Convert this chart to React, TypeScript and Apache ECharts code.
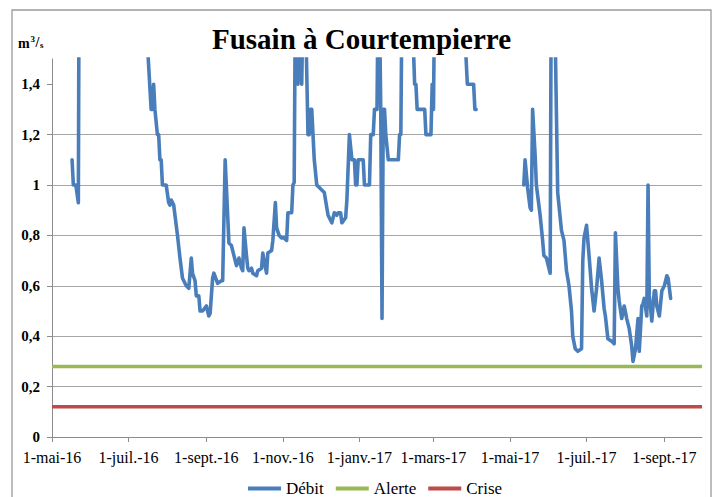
import React, { useEffect, useRef } from 'react';
import * as echarts from 'echarts';

const FONT = '"Liberation Serif", "Times New Roman", serif';

const axisStart = '2016-05-01';
const axisEnd = '2017-10-01';

const tickDates = [
  '2016-05-01', '2016-07-01', '2016-09-01', '2016-11-01', '2017-01-01',
  '2017-03-01', '2017-05-01', '2017-07-01', '2017-09-01',
];
const tickLabels = [
  '1-mai-16', '1-juil.-16', '1-sept.-16', '1-nov.-16', '1-janv.-17',
  '1-mars-17', '1-mai-17', '1-juil.-17', '1-sept.-17',
];
const yTicks = [0, 0.2, 0.4, 0.6, 0.8, 1, 1.2, 1.4];

const alerteValue = 0.28;
const criseValue = 0.12;

// Débit (m3/s); values above 1.5 run off the top of the chart
const debitDates = [
  '2016-05-17', '2016-05-18', '2016-05-20', '2016-05-22', '2016-05-23', '2016-06-01', '2016-06-15',
  '2016-07-01', '2016-07-10', '2016-07-15', '2016-07-19', '2016-07-20', '2016-07-21', '2016-07-22',
  '2016-07-24', '2016-07-25', '2016-07-26', '2016-07-27', '2016-07-28', '2016-07-31', '2016-08-02',
  '2016-08-03', '2016-08-04', '2016-08-06', '2016-08-09', '2016-08-11', '2016-08-13', '2016-08-16',
  '2016-08-18', '2016-08-20', '2016-08-21', '2016-08-23', '2016-08-24', '2016-08-26', '2016-08-27',
  '2016-08-29', '2016-09-01', '2016-09-03', '2016-09-04', '2016-09-06', '2016-09-07', '2016-09-10',
  '2016-09-13', '2016-09-14', '2016-09-16', '2016-09-19', '2016-09-21', '2016-09-23', '2016-09-25',
  '2016-09-27', '2016-09-29', '2016-09-30', '2016-10-01', '2016-10-03', '2016-10-04', '2016-10-05',
  '2016-10-07', '2016-10-08', '2016-10-11', '2016-10-12', '2016-10-15', '2016-10-16', '2016-10-17',
  '2016-10-19', '2016-10-20', '2016-10-23', '2016-10-24', '2016-10-26', '2016-10-27', '2016-10-29',
  '2016-10-31', '2016-11-02', '2016-11-04', '2016-11-05', '2016-11-08', '2016-11-09', '2016-11-10',
  '2016-11-11', '2016-11-12', '2016-11-13', '2016-11-14', '2016-11-15', '2016-11-16', '2016-11-17',
  '2016-11-19', '2016-11-21', '2016-11-22', '2016-11-23', '2016-11-24', '2016-11-25', '2016-11-26',
  '2016-11-28', '2016-11-30', '2016-12-02', '2016-12-04', '2016-12-06', '2016-12-07', '2016-12-09',
  '2016-12-10', '2016-12-12', '2016-12-14', '2016-12-15', '2016-12-17', '2016-12-18', '2016-12-21',
  '2016-12-22', '2016-12-24', '2016-12-26', '2016-12-28', '2016-12-29', '2016-12-30', '2016-12-31',
  '2017-01-04', '2017-01-05', '2017-01-09', '2017-01-10', '2017-01-12', '2017-01-13', '2017-01-15',
  '2017-01-16', '2017-01-17', '2017-01-18', '2017-01-19', '2017-01-20', '2017-01-21', '2017-01-22',
  '2017-01-24', '2017-02-01', '2017-02-02', '2017-02-03', '2017-02-04', '2017-02-10', '2017-02-12',
  '2017-02-14', '2017-02-15', '2017-02-16', '2017-02-22', '2017-02-23', '2017-02-27', '2017-02-28',
  '2017-03-01', '2017-03-02', '2017-03-12', '2017-03-26', '2017-03-28', '2017-04-02', '2017-04-03',
  '2017-04-04', '2017-04-20',
  '2017-05-12', '2017-05-13', '2017-05-15', '2017-05-17', '2017-05-18', '2017-05-19', '2017-05-21',
  '2017-05-22', '2017-05-25', '2017-05-27', '2017-05-28', '2017-05-30', '2017-06-02', '2017-06-03',
  '2017-06-05', '2017-06-08', '2017-06-11', '2017-06-13', '2017-06-15', '2017-06-17', '2017-06-19',
  '2017-06-20', '2017-06-22', '2017-06-24', '2017-06-27', '2017-06-28', '2017-06-29', '2017-07-01',
  '2017-07-03', '2017-07-05', '2017-07-07', '2017-07-09', '2017-07-11', '2017-07-13', '2017-07-15',
  '2017-07-16', '2017-07-18', '2017-07-21', '2017-07-23', '2017-07-24', '2017-07-26', '2017-07-27',
  '2017-07-29', '2017-07-31', '2017-08-02', '2017-08-04', '2017-08-06', '2017-08-07', '2017-08-09',
  '2017-08-11', '2017-08-12', '2017-08-14', '2017-08-15', '2017-08-16', '2017-08-18', '2017-08-19',
  '2017-08-20', '2017-08-22', '2017-08-24', '2017-08-25', '2017-08-26', '2017-08-28', '2017-08-30',
  '2017-09-01', '2017-09-03', '2017-09-04', '2017-09-06',
];
const debitValues = [
  1.10, 1.00, 1.00, 0.93, 2.5, 3.0, 2.6,
  2.0, 1.8, 1.65, 1.30, 1.30, 1.40, 1.30,
  1.20, 1.20, 1.10, 1.10, 1.00, 1.00, 0.93,
  0.92, 0.94, 0.92, 0.80, 0.71, 0.63, 0.60,
  0.59, 0.71, 0.65, 0.62, 0.56, 0.56, 0.50,
  0.50, 0.52, 0.48, 0.49, 0.63, 0.65, 0.61,
  0.62, 0.62, 1.10, 0.77, 0.76, 0.72, 0.68,
  0.71, 0.67, 0.66, 0.83, 0.72, 0.67, 0.66,
  0.67, 0.65, 0.64, 0.66, 0.67, 0.73, 0.70,
  0.65, 0.73, 0.74, 0.78, 0.93, 0.83, 0.80,
  0.79, 0.79, 0.78, 0.89, 0.89, 1.00, 1.01,
  1.8, 1.6, 1.40, 1.8, 1.6, 1.40, 1.7,
  1.7, 1.20, 1.20, 1.30, 1.30, 1.20, 1.10,
  1.00, 0.99, 0.98, 0.97, 0.91, 0.88, 0.86,
  0.85, 0.89, 0.88, 0.89, 0.89, 0.85, 0.87,
  0.94, 1.20, 1.10, 1.10, 1.00, 1.00, 1.10,
  1.10, 1.00, 1.00, 1.20, 1.20, 1.30, 1.30,
  1.8, 1.7, 1.30, 0.47, 1.30, 1.30, 1.20,
  1.10, 1.10, 1.20, 1.20, 1.8, 2.0, 1.7,
  1.40, 1.40, 1.30, 1.30, 1.20, 1.20, 1.40,
  1.30, 1.8, 2.2, 1.6, 1.40, 1.40, 1.30,
  1.30, null,
  1.00, 1.10, 0.99, 0.91, 0.90, 1.30, 1.12,
  1.00, 0.88, 0.78, 0.72, 0.71, 0.65, 2.0,
  1.9, 0.97, 0.82, 0.78, 0.66, 0.60, 0.50,
  0.40, 0.35, 0.34, 0.35, 0.70, 0.79, 0.84,
  0.72, 0.59, 0.50, 0.59, 0.71, 0.62, 0.51,
  0.48, 0.39, 0.38, 0.37, 0.81, 0.59, 0.54,
  0.47, 0.52, 0.47, 0.43, 0.36, 0.30, 0.35,
  0.47, 0.34, 0.52, 0.53, 0.55, 0.48, 1.00,
  0.56, 0.46, 0.58, 0.58, 0.52, 0.48, 0.58,
  0.60, 0.64, 0.63, 0.55,
];

const ts = (s: string) => Date.parse(s + 'T00:00:00Z');

export default function App() {
  const ref = useRef<HTMLDivElement>(null);

  useEffect(() => {
    if (!ref.current) return;
    const chart = echarts.init(ref.current, undefined, { renderer: 'svg' });
    const tickTs = tickDates.map(ts);
    const labelFor = (v: number) => {
      let best = 0;
      for (let i = 1; i < tickTs.length; i++) {
        if (Math.abs(tickTs[i] - v) < Math.abs(tickTs[best] - v)) best = i;
      }
      return tickLabels[best];
    };
    const xMin = ts(axisStart);
    const xMax = ts(axisEnd);
    const axisColor = '#8c8c8c';

    chart.setOption({
      animation: false,
      textStyle: { fontFamily: FONT },
      grid: {
        left: 52, top: 59, width: 650, height: 378,
        containLabel: false, outerBoundsMode: 'none',
      },
      xAxis: {
        type: 'value',
        min: xMin,
        max: xMax,
        scale: true,
        axisLine: { show: true, onZero: false, lineStyle: { color: axisColor, width: 1 } },
        axisTick: { show: true, length: 5, inside: false, customValues: tickTs, lineStyle: { color: axisColor } },
        axisLabel: {
          show: true,
          customValues: tickTs,
          formatter: (v: number) => labelFor(v),
          fontFamily: FONT,
          fontSize: 16,
          color: '#000',
          margin: 12,
          hideOverlap: false,
        },
        splitLine: { show: false },
        minorTick: { show: false },
      },
      yAxis: {
        type: 'value',
        min: 0,
        max: 1.5,
        axisLine: { show: true, lineStyle: { color: axisColor, width: 1 } },
        axisTick: { show: true, length: 5, inside: false, customValues: yTicks, lineStyle: { color: axisColor } },
        axisLabel: {
          customValues: yTicks,
          formatter: (v: number) => String(Math.round(v * 10) / 10).replace('.', ','),
          fontFamily: FONT,
          fontWeight: 'bold',
          fontSize: 15,
          color: '#000',
          margin: 12,
        },
        splitLine: { show: true, showMaxLine: false, lineStyle: { color: '#a6a6a6', width: 1 } },
      },
      legend: {
        show: true,
        left: 248,
        top: 480,
        padding: 0,
        itemGap: 12,
        itemWidth: 33,
        itemHeight: 4,
        icon: 'rect',
        textStyle: { fontFamily: FONT, fontSize: 17, color: '#000' },
        data: ['Débit', 'Alerte', 'Crise'],
      },
      series: [
        {
          name: 'Débit',
          type: 'line',
          data: debitDates.map((d, i) => [ts(d), debitValues[i]]),
          showSymbol: false,
          symbol: 'none',
          connectNulls: false,
          clip: true,
          color: '#4a7ebb',
          lineStyle: { color: '#4a7ebb', width: 3.6, cap: 'round', join: 'round' },
          z: 3,
        },
        {
          name: 'Alerte',
          type: 'line',
          data: [[xMin, alerteValue], [xMax, alerteValue]],
          showSymbol: false,
          symbol: 'none',
          color: '#98b954',
          lineStyle: { color: '#98b954', width: 3.6 },
          z: 2,
        },
        {
          name: 'Crise',
          type: 'line',
          data: [[xMin, criseValue], [xMax, criseValue]],
          showSymbol: false,
          symbol: 'none',
          color: '#be4b48',
          lineStyle: { color: '#be4b48', width: 3.6 },
          z: 2,
        },
      ],
      graphic: [
        {
          type: 'rect',
          silent: true,
          z: -10,
          shape: { x: 12, y: 10, width: 699, height: 520 },
          style: { fill: 'none', stroke: '#9a9a9a', lineWidth: 1.3 },
        },
        {
          type: 'text',
          x: 361.5,
          y: 38.5,
          style: {
            text: 'Fusain à Courtempierre',
            fontFamily: FONT, fontWeight: 'bold', fontSize: 29,
            fill: '#000',
            textAlign: 'center',
            textVerticalAlign: 'middle',
          },
        },
        {
          type: 'text', x: 18, y: 43,
          style: { text: 'm', fontFamily: FONT, fontWeight: 'bold', fontSize: 14, fill: '#000', textAlign: 'left', textVerticalAlign: 'middle' },
        },
        {
          type: 'text', x: 30.5, y: 38.5,
          style: { text: '3', fontFamily: FONT, fontWeight: 'bold', fontSize: 9, fill: '#000', textAlign: 'left', textVerticalAlign: 'middle' },
        },
        {
          type: 'text', x: 35.5, y: 42,
          style: { text: '/', fontFamily: FONT, fontWeight: 'bold', fontSize: 14, fill: '#000', textAlign: 'left', textVerticalAlign: 'middle' },
        },
        {
          type: 'text', x: 40, y: 45,
          style: { text: 's', fontFamily: FONT, fontWeight: 'bold', fontSize: 9, fill: '#000', textAlign: 'left', textVerticalAlign: 'middle' },
        },
      ],
    });

    return () => chart.dispose();
  }, []);

  return (
    <div
      ref={ref}
      style={{ position: 'absolute', left: 0, top: 0, width: 718, height: 497, background: '#fff' }}
    />
  );
}
